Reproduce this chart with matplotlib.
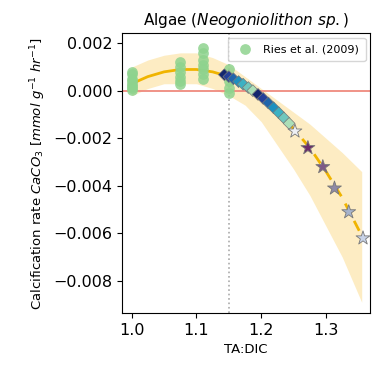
import matplotlib
matplotlib.use("Agg")
import matplotlib.pyplot as plt
import numpy as np

# observations (Ries et al. 2009)
obs_x = [1.0]*8 + [1.075]*6 + [1.11]*7 + [1.15]*5
obs_y = [0.0008, 0.0007, 0.0005, 0.0004, 0.0003, 0.0002, 0.0001, 0.00005,
         0.0012, 0.0010, 0.0008, 0.0006, 0.0004, 0.0003,
         0.0018, 0.0016, 0.0013, 0.0011, 0.0009, 0.0007, 0.0005,
         0.0009, 0.0006, 0.0004, 0.0001, -0.0001]

# fitted curve
fit_x = [1.000, 1.025, 1.050, 1.075, 1.100, 1.125, 1.150,
         1.175, 1.200, 1.225, 1.250, 1.275, 1.300, 1.325, 1.357]
fit_y = [0.0003, 0.0006, 0.0008, 0.0009, 0.0009, 0.0008, 0.0006,
         0.0002, -0.00025, -0.0008, -0.0016, -0.0024, -0.0034, -0.0045, -0.0062]

# uncertainty band
band_x = [1.0, 1.025, 1.05, 1.075, 1.1, 1.125, 1.15, 1.175,
          1.2, 1.225, 1.25, 1.275, 1.3, 1.325, 1.355]
band_hi = [0.0010, 0.0013, 0.0015, 0.0016, 0.0016, 0.0014, 0.0011, 0.0006,
           0.0001, -0.0004, -0.0009, -0.0014, -0.0020, -0.0026, -0.0034]
band_lo = [-0.0002, 0.0001, 0.0003, 0.0003, 0.0003, 0.0001, -0.0002, -0.0006,
           -0.0013, -0.0023, -0.0033, -0.0044, -0.0057, -0.0070, -0.0089]

# projected points (diamonds, two runs)
dia_x = [1.143, 1.150, 1.157, 1.165, 1.172, 1.180, 1.187,
         1.195, 1.203, 1.211, 1.219, 1.227, 1.235, 1.243]
dia_y = [0.00068, 0.0006, 0.00051, 0.00039, 0.00028, 0.00014, 0.00001,
         -0.00015, -0.00032, -0.00051, -0.00071, -0.00092, -0.00114, -0.00137]

# projected points (stars)
star_x = [1.252, 1.272, 1.295, 1.313, 1.335, 1.357]
star_y = [-0.0017, -0.0024, -0.0032, -0.0041, -0.0051, -0.0062]
star_c = ["#eef0f5", "#6b2d6b", "#7e5a86", "#8f8aa6", "#a6b3cc", "#c8d3e8"]

fig = plt.figure(figsize=(3.75, 3.81), dpi=100)
ax = fig.add_axes([0.326, 0.178, 0.661, 0.735])

ax.fill_between(band_x, band_lo, band_hi, color="#fde8b4", alpha=0.8, lw=0, zorder=1)
ax.axhline(0, color="#ef8a7e", lw=1.3, zorder=2)
ax.axvline(1.15, color="#aaaaaa", lw=1.2, ls=":", zorder=2)

fx = np.array(fit_x)
fy = np.array(fit_y)
ax.plot(fx[fx <= 1.15], fy[fx <= 1.15], color="#f0b400", lw=2, zorder=3)
ax.plot(fx[fx >= 1.15], fy[fx >= 1.15], color="#f0b400", lw=2, ls=(0, (4, 3)), zorder=3)

ax.scatter(obs_x, obs_y, s=60, color="#8ed38e", alpha=0.85, lw=0, zorder=4,
           label="Ries et al. (2009)")

dia_c = list(plt.cm.YlGnBu(np.linspace(0.95, 0.3, 7))) * 2
ax.scatter(dia_x, dia_y, s=36, marker="D", c=dia_c, edgecolors="#777777",
           linewidths=0.5, zorder=5)
ax.scatter(star_x, star_y, s=110, marker="*", c=star_c, edgecolors="#777777",
           linewidths=0.6, zorder=6)

ax.set_xlim(0.9855, 1.368)
ax.set_ylim(-0.00936, 0.00243)
ax.set_xticks([1.0, 1.1, 1.2, 1.3])
ax.set_yticks([0.002, 0.0, -0.002, -0.004, -0.006, -0.008])
ax.set_yticklabels(["0.002", "0.000", "\u22120.002", "\u22120.004", "\u22120.006", "\u22120.008"])
ax.tick_params(labelsize=11.5)

ax.set_title(r"Algae ($\it{Neogoniolithon\ sp.}$)", fontsize=11)
ax.set_xlabel("TA:DIC", fontsize=9.5)
ax.set_ylabel(r"Calcification rate $CaCO_3$ $[mmol\ g^{-1}\ hr^{-1}]$", fontsize=9.5)
ax.legend(loc="upper right", fontsize=8, handletextpad=0.6, borderpad=0.6,
          borderaxespad=0.4)

fig.savefig("out.png", dpi=100)
